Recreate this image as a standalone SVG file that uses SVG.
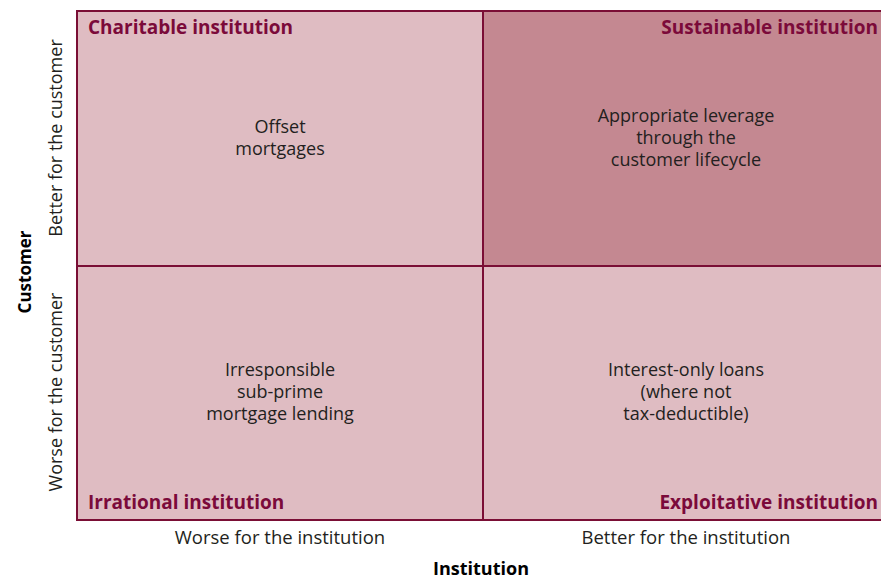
<svg xmlns="http://www.w3.org/2000/svg" width="881" height="580" viewBox="0 0 881 580">
  <style>
    .q { fill: #dfbcc2; }
    .qd { fill: #c48891; }
    .ln { stroke: #7a0e35; stroke-width: 2; fill: none; }
    .ttl { font-family: "Open Sans", "Noto Sans", sans-serif; font-weight: bold; font-size: 19px; fill: #7b0a3a; }
    .body { font-family: "Open Sans", "Noto Sans", sans-serif; font-size: 18px; fill: #231f20; text-anchor: middle; }
    .ax { font-family: "Open Sans", "Noto Sans", sans-serif; font-size: 18.5px; fill: #231f20; text-anchor: middle; }
    .axb { font-family: "Open Sans", "Noto Sans", sans-serif; font-weight: bold; font-size: 18px; fill: #000; text-anchor: middle; }
  </style>
  <rect width="881" height="580" fill="#ffffff"/>

  <g id="quadrant-charitable">
    <rect class="q" x="77" y="11" width="406" height="255"/>
    <text class="ttl" x="88" y="34">Charitable institution</text>
    <text class="body" x="280" y="133">Offset</text>
    <text class="body" x="280" y="155">mortgages</text>
  </g>

  <g id="quadrant-sustainable">
    <rect class="qd" x="483" y="11" width="398" height="255"/>
    <text class="ttl" x="878" y="34" text-anchor="end">Sustainable institution</text>
    <text class="body" x="686" y="122">Appropriate leverage</text>
    <text class="body" x="686" y="144">through the</text>
    <text class="body" x="686" y="166">customer lifecycle</text>
  </g>

  <g id="quadrant-irrational">
    <rect class="q" x="77" y="266" width="406" height="254"/>
    <text class="ttl" x="88" y="509">Irrational institution</text>
    <text class="body" x="280" y="376">Irresponsible</text>
    <text class="body" x="280" y="398">sub-prime</text>
    <text class="body" x="280" y="420">mortgage lending</text>
  </g>

  <g id="quadrant-exploitative">
    <rect class="q" x="483" y="266" width="398" height="254"/>
    <text class="ttl" x="878" y="509" text-anchor="end">Exploitative institution</text>
    <text class="body" x="686" y="376">Interest-only loans</text>
    <text class="body" x="686" y="398">(where not</text>
    <text class="body" x="686" y="420">tax-deductible)</text>
  </g>

  <g id="grid-lines">
    <path class="ln" d="M77 11 H881 M77 520 H881 M77 10 V521 M483 11 V520 M77 266 H881"/>
  </g>

  <g id="axis-x">
    <text class="ax" x="280" y="544">Worse for the institution</text>
    <text class="ax" x="686" y="544">Better for the institution</text>
    <text class="axb" x="481" y="575">Institution</text>
  </g>

  <g id="axis-y">
    <text class="ax" style="font-size:18px" transform="translate(62 138) rotate(-90)">Better for the customer</text>
    <text class="ax" style="font-size:18px" transform="translate(62 392) rotate(-90)">Worse for the customer</text>
    <text class="axb" style="font-size:17px" transform="translate(31 272) rotate(-90)">Customer</text>
  </g>
</svg>
